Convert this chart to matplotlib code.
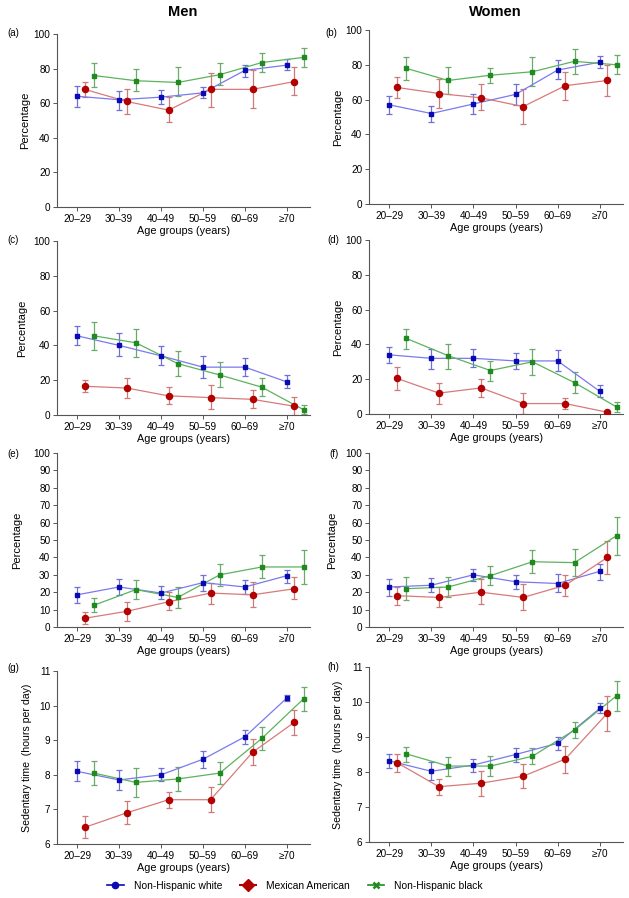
import matplotlib
matplotlib.use("Agg")
import matplotlib.pyplot as plt
from matplotlib.lines import Line2D
import numpy as np

plt.rcParams['font.family'] = ['Liberation Sans', 'DejaVu Sans']

age_groups = ["20–29", "30–39", "40–49", "50–59", "60–69", "≥70"]
series_names = ["Non-Hispanic white", "Mexican American", "Non-Hispanic black"]

# Panel data: (mean, lower, upper) for white, mexican, black
a_white = [64, 62, 63.5, 66, 79, 82]
a_white_lo = [58, 56, 59.5, 63, 75, 79]
a_white_hi = [70, 67, 67.5, 69.5, 82, 85.5]
a_mex = [68, 61, 56, 68, 68, 72.5]
a_mex_lo = [63.5, 53.5, 49, 58, 57, 64.5]
a_mex_hi = [72.5, 68, 63.5, 77.5, 79, 81]
a_blk = [76, 73, 72, 76.5, 83.5, 86.5]
a_blk_lo = [69.5, 67, 64, 70.5, 78, 81]
a_blk_hi = [83, 79.5, 81, 83, 89, 92]

b_white = [57, 52, 57.5, 63, 77, 81.5]
b_white_lo = [51.5, 47, 52, 57, 72, 78]
b_white_hi = [62, 56.5, 63, 69, 82.5, 85]
b_mex = [67, 63.5, 61, 56, 68, 71]
b_mex_lo = [61, 55, 54, 46, 60, 62]
b_mex_hi = [73, 72, 69, 66, 76, 80]
b_blk = [78, 71, 74, 76, 82, 80]
b_blk_lo = [71, 63, 69.5, 68, 75, 74.5]
b_blk_hi = [84.5, 79, 78, 84.5, 89, 85.5]

c_white = [45.5, 40, 34, 27.5, 27.5, 19]
c_white_lo = [40, 34, 29, 21.5, 22.5, 15.5]
c_white_hi = [51, 47, 39.5, 34, 32.5, 23]
c_mex = [16.5, 15.5, 11, 10, 9, 5]
c_mex_lo = [13, 9.5, 6.5, 3.5, 4, 0]
c_mex_hi = [20, 21, 16, 17, 14.5, 10.5]
c_blk = [45.5, 41.5, 29.5, 23, 16, 3]
c_blk_lo = [37.5, 33.5, 22.5, 16, 11, 0.5]
c_blk_hi = [53.5, 49.5, 37, 30.5, 21.5, 6]

d_white = [34, 32, 32, 30.5, 30.5, 13]
d_white_lo = [29.5, 26, 27, 26, 25, 10]
d_white_hi = [38.5, 37.5, 37.5, 35, 36.5, 16.5]
d_mex = [20.5, 12, 15, 6, 6, 1]
d_mex_lo = [14, 6, 10, 0, 3, 0]
d_mex_hi = [27, 18, 20, 12, 9, 2]
d_blk = [43.5, 33.5, 25, 30, 18, 4]
d_blk_lo = [37.5, 26, 19, 22.5, 12, 1]
d_blk_hi = [49, 40.5, 30.5, 37.5, 24, 7]

e_white = [18.5, 23, 19.5, 25.5, 23, 29.5]
e_white_lo = [14, 18.5, 16, 20.5, 19, 25.5]
e_white_hi = [23, 27.5, 23.5, 30, 27, 33]
e_mex = [5, 9, 14.5, 19.5, 18.5, 22]
e_mex_lo = [1.5, 3.5, 9.5, 13, 11.5, 16]
e_mex_hi = [8.5, 14.5, 20, 25.5, 26, 28.5]
e_blk = [12.5, 21.5, 17, 30, 34.5, 34.5]
e_blk_lo = [8.5, 16, 11, 23.5, 28, 25]
e_blk_hi = [16.5, 27, 23, 36, 41.5, 44.5]

f_white = [23, 24, 30, 26, 25, 32]
f_white_lo = [18, 20, 26.5, 22, 20, 27]
f_white_hi = [27.5, 28, 33.5, 30, 30.5, 36]
f_mex = [18, 17, 20, 17, 24, 40]
f_mex_lo = [12.5, 11.5, 13.5, 9.5, 18, 30.5]
f_mex_hi = [23, 23, 27.5, 25, 30, 49.5]
f_blk = [22, 23, 29.5, 37.5, 37, 52.5]
f_blk_lo = [15.5, 17, 24, 31, 29.5, 41.5]
f_blk_hi = [28.5, 29, 35, 44, 45, 63.5]

g_white = [8.1, 7.85, 8.0, 8.45, 9.1, 10.22]
g_white_lo = [7.82, 7.55, 7.82, 8.2, 8.9, 10.12]
g_white_hi = [8.4, 8.15, 8.2, 8.7, 9.3, 10.32]
g_mex = [6.48, 6.9, 7.28, 7.28, 8.65, 9.52]
g_mex_lo = [6.17, 6.57, 7.03, 6.92, 8.28, 9.15]
g_mex_hi = [6.8, 7.23, 7.5, 7.65, 9.03, 9.88]
g_blk = [8.05, 7.78, 7.88, 8.05, 9.05, 10.2]
g_blk_lo = [7.7, 7.35, 7.53, 7.72, 8.72, 9.85]
g_blk_hi = [8.4, 8.2, 8.22, 8.38, 9.38, 10.53]

h_white = [8.32, 8.02, 8.2, 8.5, 8.82, 9.82]
h_white_lo = [8.12, 7.78, 8.0, 8.3, 8.62, 9.68]
h_white_hi = [8.52, 8.28, 8.38, 8.68, 9.0, 9.98]
h_mex = [8.27, 7.58, 7.68, 7.88, 8.37, 9.68]
h_mex_lo = [8.0, 7.35, 7.32, 7.55, 7.98, 9.18]
h_mex_hi = [8.52, 7.8, 8.02, 8.22, 8.75, 10.18]
h_blk = [8.52, 8.17, 8.17, 8.45, 9.2, 10.18]
h_blk_lo = [8.3, 7.9, 7.9, 8.22, 8.97, 9.75]
h_blk_hi = [8.72, 8.43, 8.45, 8.68, 9.43, 10.6]

panels = [
    ("(a)", [(a_white, a_white_lo, a_white_hi), (a_mex, a_mex_lo, a_mex_hi), (a_blk, a_blk_lo, a_blk_hi)]),
    ("(b)", [(b_white, b_white_lo, b_white_hi), (b_mex, b_mex_lo, b_mex_hi), (b_blk, b_blk_lo, b_blk_hi)]),
    ("(c)", [(c_white, c_white_lo, c_white_hi), (c_mex, c_mex_lo, c_mex_hi), (c_blk, c_blk_lo, c_blk_hi)]),
    ("(d)", [(d_white, d_white_lo, d_white_hi), (d_mex, d_mex_lo, d_mex_hi), (d_blk, d_blk_lo, d_blk_hi)]),
    ("(e)", [(e_white, e_white_lo, e_white_hi), (e_mex, e_mex_lo, e_mex_hi), (e_blk, e_blk_lo, e_blk_hi)]),
    ("(f)", [(f_white, f_white_lo, f_white_hi), (f_mex, f_mex_lo, f_mex_hi), (f_blk, f_blk_lo, f_blk_hi)]),
    ("(g)", [(g_white, g_white_lo, g_white_hi), (g_mex, g_mex_lo, g_mex_hi), (g_blk, g_blk_lo, g_blk_hi)]),
    ("(h)", [(h_white, h_white_lo, h_white_hi), (h_mex, h_mex_lo, h_mex_hi), (h_blk, h_blk_lo, h_blk_hi)]),
]

W, H = 629, 898
fig = plt.figure(figsize=(W / 100, H / 100), dpi=100)

# pixel boxes (x0, x1, ytop, ybottom)
boxes = [
    (57, 310, 34, 207), (369, 623, 30, 204),
    (57, 310, 241, 415), (369, 623, 240, 414),
    (57, 310, 453, 627), (369, 623, 453, 627),
    (57, 310, 671, 844), (369, 623, 667, 842),
]
label_pos = [(7, 33), (325, 33), (7, 240), (327, 240), (7, 454), (329, 454), (7, 668), (327, 667)]
ylab_x = [30, 343, 27, 343, 22, 337, 32, 343]

marker_col = ["#0a0ab4", "#b30000", "#1f8a1f"]
line_col = ["#7a7aee", "#d97a7a", "#5cb35c"]
err_col = ["#6f6fd8", "#cc7a7a", "#6aaa6a"]
markers = ["s", "o", "s"]
msizes = [3.0, 4.4, 2.6]
offsets = [0.0, 0.18, 0.4]

x = np.arange(len(age_groups))

for i, (lab, series) in enumerate(panels):
    x0, x1, yt, yb = boxes[i]
    ax = fig.add_axes([x0 / W, 1 - yb / H, (x1 - x0) / W, (yb - yt) / H])
    for s, (m, lo, hi) in enumerate(series):
        m = np.array(m); lo = np.array(lo); hi = np.array(hi)
        xs = x + offsets[s]
        ax.errorbar(xs, m, yerr=[m - lo, hi - m], fmt='none', ecolor=err_col[s],
                    elinewidth=0.9, capsize=2.0, capthick=0.9, zorder=2)
        ax.plot(xs, m, color=line_col[s], lw=0.9, zorder=3)
        ax.plot(xs, m, linestyle='none', marker=markers[s], ms=msizes[s],
                mfc=marker_col[s], mec=marker_col[s], zorder=4)
    if i < 6:
        ax.set_ylim(0, 100)
        if i < 4:
            ax.set_yticks(np.arange(0, 101, 20))
        else:
            ax.set_yticks(np.arange(0, 101, 10))
        ax.set_ylabel("Percentage", fontsize=8)
    else:
        ax.set_ylim(6, 11)
        ax.set_yticks(np.arange(6, 12, 1))
        ax.set_ylabel("Sedentary time  (hours per day)", fontsize=7.6)
    ax.yaxis.set_label_coords((ylab_x[i] - x0) / (x1 - x0), 0.5)
    ax.set_xlim(-0.48, 5.55)
    ax.set_xticks(x)
    ax.set_xticklabels(age_groups)
    ax.set_xlabel("Age groups (years)", fontsize=7.8, labelpad=2)
    for sp in ["top", "right"]:
        ax.spines[sp].set_visible(False)
    for sp in ["left", "bottom"]:
        ax.spines[sp].set_color("#555555")
        ax.spines[sp].set_linewidth(0.8)
    ax.tick_params(axis='both', labelsize=7.2, length=3, width=0.7, color="#555555", pad=1.8)
    ax.patch.set_alpha(0)
    fig.text(label_pos[i][0] / W, 1 - label_pos[i][1] / H, lab, fontsize=7,
             ha='left', va='center')

fig.text(183 / W, 1 - 12 / H, "Men", fontsize=10.5, fontweight='bold', ha='center', va='center')
fig.text(495 / W, 1 - 12 / H, "Women", fontsize=10.5, fontweight='bold', ha='center', va='center')

handles = [
    Line2D([], [], color=marker_col[0], lw=1.2, marker='o', ms=4.5, mfc=marker_col[0], mec=marker_col[0]),
    Line2D([], [], color=marker_col[1], lw=1.5, marker='D', ms=6.5, mfc=marker_col[1], mec=marker_col[1]),
    Line2D([], [], color=marker_col[2], lw=1.2, marker='x', ms=4.5, mew=1.8, mfc=marker_col[2], mec=marker_col[2]),
]
fig.legend(handles, series_names, loc='center', bbox_to_anchor=(295 / W, 1 - 886 / H),
           ncol=3, frameon=False, fontsize=7.4, handlelength=1.6, columnspacing=1.7,
           handletextpad=1.0)

fig.savefig("out.png", dpi=100)
